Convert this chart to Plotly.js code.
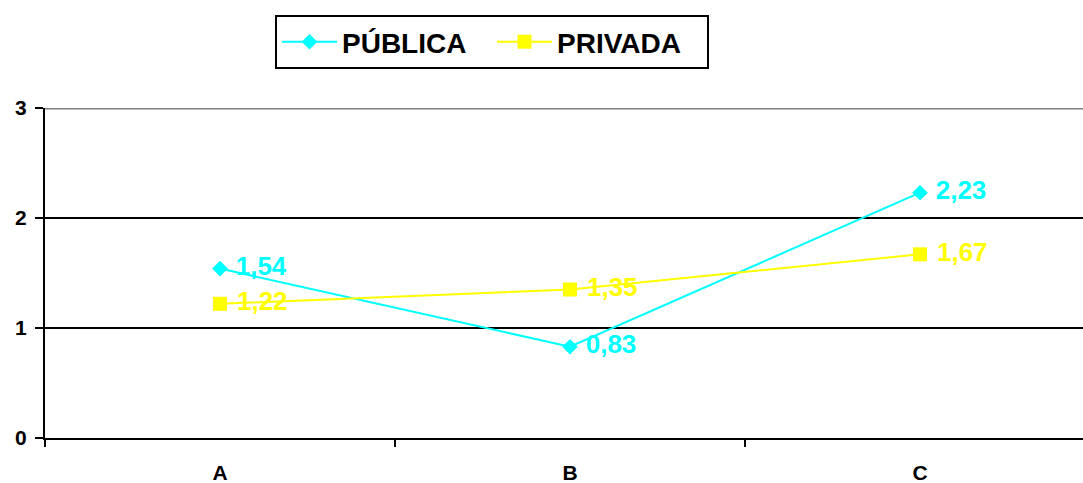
<!DOCTYPE html>
<html>
<head>
<meta charset="utf-8">
<script src="https://cdn.plot.ly/plotly-3.0.1.min.js"></script>
<style>html,body{margin:0;padding:0;background:#fff;}#chart{width:1083px;height:483px;}</style>
</head>
<body>
<div id="chart"></div>
<script>
const categories = ["A", "B", "C"];
const publica = [1.54, 0.83, 2.23];
const privada = [1.22, 1.35, 1.67];
const seriesNames = ["PÚBLICA", "PRIVADA"];
const yTicks = [0, 1, 2, 3];

const FONT = "Liberation Sans, Arial, sans-serif";

const traces = [
  {
    x: categories, y: publica, name: seriesNames[0], type: "scatter", mode: "lines+markers+text",
    line: {color: "#00FFFF", width: 2},
    marker: {symbol: "diamond", size: 12, color: "#00FFFF"},
    texttemplate: " %{y:.2f}", textposition: "middle right",
    textfont: {family: FONT, size: 26, color: "#00FFFF", weight: "bold"},
    cliponaxis: false
  },
  {
    x: categories, y: privada, name: seriesNames[1], type: "scatter", mode: "lines+markers+text",
    line: {color: "#FFFF00", width: 2},
    marker: {symbol: "square", size: 14, color: "#FFFF00"},
    texttemplate: " %{y:.2f}", textposition: "middle right",
    textfont: {family: FONT, size: 26, color: "#FFFF00", weight: "bold"},
    cliponaxis: false
  }
];

const layout = {
  width: 1083, height: 483,
  margin: {l: 45, r: 0, t: 108, b: 45},
  paper_bgcolor: "#fff", plot_bgcolor: "#fff",
  separators: ",.",
  font: {family: FONT, color: "#000"},
  showlegend: true,
  legend: {
    orientation: "h", x: (275 - 45) / 1038, y: (438 - 15) / 330, xanchor: "left", yanchor: "top",
    bordercolor: "#000", borderwidth: 2, bgcolor: "#fff",
    font: {family: FONT, size: 28, color: "#000", weight: "bold"},
    itemwidth: 55, entrywidth: 145, entrywidthmode: "pixels", traceorder: "normal"
  },
  xaxis: {
    type: "category", range: [-0.5, 2.4657],
    tickson: "boundaries", ticks: "outside", ticklen: 7, tickwidth: 2, tickcolor: "#000",
    showgrid: false, showline: true, linecolor: "#000", linewidth: 2,
    zeroline: false, ticklabelstandoff: 15,
    tickfont: {family: FONT, size: 21, color: "#000", weight: "bold"}
  },
  yaxis: {
    range: [0, 3], tickvals: yTicks, ticktext: yTicks.map(String),
    ticks: "outside", ticklen: 8, tickwidth: 2, tickcolor: "#000",
    showline: true, linecolor: "#000", linewidth: 2,
    showgrid: true, gridcolor: "#000", gridwidth: 2, zeroline: false,
    ticklabelstandoff: 4,
    tickfont: {family: FONT, size: 21, color: "#000", weight: "bold"}
  },
  shapes: [
    {type: "line", xref: "paper", yref: "y", x0: 0, x1: 1, y0: 3, y1: 3,
     line: {color: "#808080", width: 3}, layer: "above"}
  ]
};

Plotly.newPlot("chart", traces, layout, {displayModeBar: false, staticPlot: true});
</script>
</body>
</html>
